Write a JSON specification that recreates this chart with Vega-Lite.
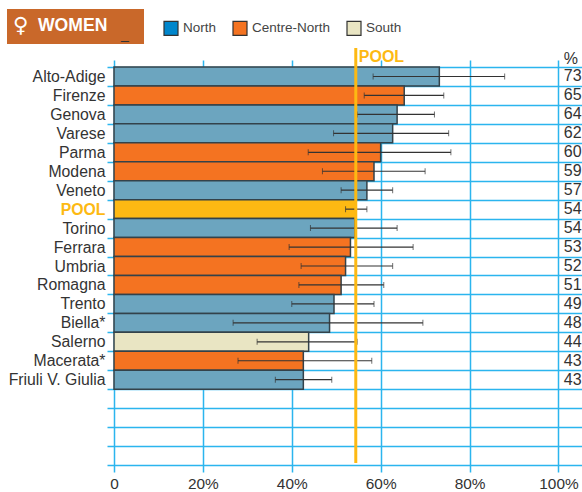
{
"$schema":"https://vega.github.io/schema/vega-lite/v6.json",
"width":475,"height":412,
"autosize":"none",
"padding":{"left":107,"top":60,"right":0,"bottom":20},
"background":"white",
"config":{"font":"Liberation Sans","view":{"stroke":null}},
"datasets":{"rows":[
{"city":"Alto-Adige","region":"North","pct":73.2,"lo":58.3,"hi":87.9,"label":"73"},
{"city":"Firenze","region":"Centre-North","pct":65.3,"lo":56.3,"hi":74.2,"label":"65"},
{"city":"Genova","region":"North","pct":63.7,"lo":54.7,"hi":72.1,"label":"64"},
{"city":"Varese","region":"North","pct":62.7,"lo":49.4,"hi":75.3,"label":"62"},
{"city":"Parma","region":"Centre-North","pct":60,"lo":43.7,"hi":75.8,"label":"60"},
{"city":"Modena","region":"Centre-North","pct":58.5,"lo":46.9,"hi":70,"label":"59"},
{"city":"Veneto","region":"North","pct":56.9,"lo":51.1,"hi":62.7,"label":"57"},
{"city":"POOL","region":"Pool","pct":54.4,"lo":52.1,"hi":56.9,"label":"54"},
{"city":"Torino","region":"North","pct":54.2,"lo":44.2,"hi":63.7,"label":"54"},
{"city":"Ferrara","region":"Centre-North","pct":53.2,"lo":39.4,"hi":67.3,"label":"53"},
{"city":"Umbria","region":"Centre-North","pct":52.1,"lo":42.1,"hi":62.7,"label":"52"},
{"city":"Romagna","region":"Centre-North","pct":51.1,"lo":41.6,"hi":60.7,"label":"51"},
{"city":"Trento","region":"North","pct":49.5,"lo":40,"hi":58.5,"label":"49"},
{"city":"Biella*","region":"North","pct":48.5,"lo":26.8,"hi":69.5,"label":"48"},
{"city":"Salerno","region":"South","pct":43.8,"lo":32.2,"hi":54.7,"label":"44"},
{"city":"Macerata*","region":"Centre-North","pct":42.6,"lo":27.9,"hi":58,"label":"43"},
{"city":"Friuli V. Giulia","region":"North","pct":42.6,"lo":36.3,"hi":49,"label":"43"}
]},
"data":{"name":"rows"},
"resolve":{"scale":{"color":"independent"}},
"layer":[
{"mark":{"type":"bar","stroke":"#33424a","strokeWidth":1.5},
"encoding":{
"y":{"field":"city","type":"nominal","title":null,
"scale":{"domain":["Alto-Adige","Firenze","Genova","Varese","Parma","Modena","Veneto","POOL","Torino","Ferrara","Umbria","Romagna","Trento","Biella*","Salerno","Macerata*","Friuli V. Giulia"," ","  ","   ","    "],"paddingInner":0,"paddingOuter":0.37},
"axis":{"orient":"left","domain":false,"grid":true,"gridColor":"#2BB5EE","gridWidth":1.5,"ticks":false,"tickBand":"extent","labelFontSize":15.8,"labelColor":{"expr":"datum.value==='POOL'?'#FDB913':'#333333'"},"labelFontWeight":{"expr":"datum.value==='POOL'?'bold':'normal'"},"labelPadding":2}},
"x":{"field":"pct","type":"quantitative","stack":null,
"scale":{"domain":[-1.575,105.3],"nice":false,"zero":false},
"axis":{"orient":"bottom","values":[0,20,40,60,80,100],"grid":true,"gridColor":"#2BB5EE","gridWidth":1.5,"domain":false,"ticks":false,"labelFontSize":15.4,"labelColor":"#333333","labelPadding":4,"title":null,"labelExpr":"datum.value===0?'0':datum.value+'%'"}},
"color":{"field":"region","type":"nominal","legend":null,
"scale":{"domain":["North","Centre-North","South","Pool"],"range":["#6CA5BF","#F47321","#E9E5C3","#FDB913"]}}
}},
{"data":{"values":[{"region":"North"},{"region":"Centre-North"},{"region":"South"}]},
"mark":{"type":"square","size":0,"opacity":1},
"encoding":{"x":{"datum":0,"type":"quantitative"},"y":{"value":0},
"color":{"field":"region","type":"nominal","title":null,
"scale":{"domain":["North","Centre-North","South"],"range":["#0086CC","#F47321","#E9E5C3"]},
"legend":{"orient":"none","legendX":56,"legendY":-40,"direction":"horizontal","columns":3,"symbolType":"square","symbolSize":196,"symbolOpacity":1,"symbolStrokeColor":"#333333","symbolStrokeWidth":1.2,"labelFontSize":13.5,"labelColor":"#444444","columnPadding":13,"labelOffset":4}}}},
{"mark":{"type":"rule","color":"#333333","strokeWidth":1.2},
"encoding":{"y":{"field":"city","type":"nominal"},"x":{"field":"lo","type":"quantitative"},"x2":{"field":"hi"}}},
{"mark":{"type":"tick","orient":"vertical","color":"#333333","size":6,"thickness":1},
"encoding":{"y":{"field":"city","type":"nominal"},"x":{"field":"lo","type":"quantitative"}}},
{"mark":{"type":"tick","orient":"vertical","color":"#333333","size":6,"thickness":1},
"encoding":{"y":{"field":"city","type":"nominal"},"x":{"field":"hi","type":"quantitative"}}},
{"mark":{"type":"text","align":"left","baseline":"middle","fontSize":16,"color":"#333333"},
"encoding":{"y":{"field":"city","type":"nominal"},"x":{"datum":101.2,"type":"quantitative"},"text":{"field":"label"}}},
{"data":{"values":[{"pool":54.4}]},"mark":{"type":"rule","color":"#FDB913","strokeWidth":3},
"encoding":{"x":{"field":"pool","type":"quantitative"},"y":{"value":-12},"y2":{"value":403}}},
{"data":{"values":[{"t":"POOL"}]},"mark":{"type":"text","align":"left","baseline":"middle","fontSize":16,"fontWeight":"bold","color":"#FDB913","dx":3},
"encoding":{"x":{"datum":54.4,"type":"quantitative"},"y":{"value":-3},"text":{"field":"t"}}},
{"data":{"values":[{"t":"%"}]},"mark":{"type":"text","align":"left","baseline":"middle","fontSize":16,"color":"#333333"},
"encoding":{"x":{"datum":101.2,"type":"quantitative"},"y":{"value":-1},"text":{"field":"t"}}},
{"data":{"values":[{"t":"box"}]},"mark":{"type":"rect","fill":"#C9682A"},
"encoding":{"x":{"value":-100},"x2":{"value":37},"y":{"value":-51},"y2":{"value":-16}}},
{"data":{"values":[{"t":"♀"}]},"mark":{"type":"text","align":"left","baseline":"middle","fontSize":21,"color":"white","font":"DejaVu Sans"},
"encoding":{"x":{"value":-94},"y":{"value":-34},"text":{"field":"t"}}},
{"data":{"values":[{"t":"WOMEN"}]},"mark":{"type":"text","align":"left","baseline":"middle","fontSize":17.6,"fontWeight":"bold","color":"white"},
"encoding":{"x":{"value":-69},"y":{"value":-34},"text":{"field":"t"}}},
{"data":{"values":[{"t":"_"}]},"mark":{"type":"text","align":"left","baseline":"alphabetic","fontSize":14,"color":"#333333"},
"encoding":{"x":{"value":14},"y":{"value":-21},"text":{"field":"t"}}}
]
}
